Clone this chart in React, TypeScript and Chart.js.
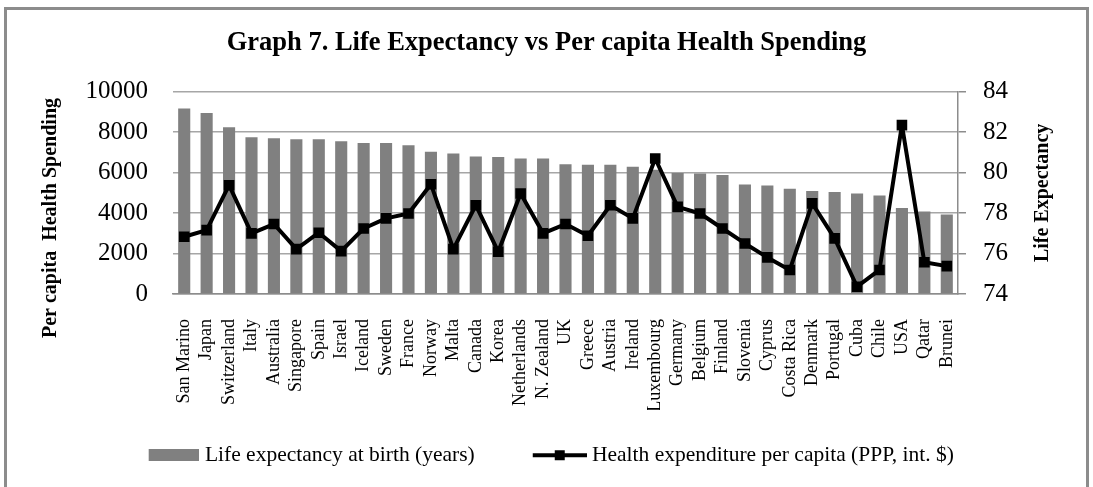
import React, { useEffect, useRef } from "react";
import { Chart, registerables } from "chart.js";

Chart.register(...registerables);

const countries = [
  "San Marino", "Japan", "Switzerland", "Italy", "Australia", "Singapore", "Spain",
  "Israel", "Iceland", "Sweden", "France", "Norway", "Malta", "Canada", "Korea",
  "Netherlands", "N. Zealand", "UK", "Greece", "Austria", "Ireland", "Luxembourg",
  "Germany", "Belgium", "Finland", "Slovenia", "Cyprus", "Costa Rica", "Denmark",
  "Portugal", "Cuba", "Chile", "USA", "Qatar", "Brunei",
];

const lifeExpectancy = [
  83.17, 82.95, 82.25, 81.75, 81.7, 81.65, 81.65, 81.55, 81.47, 81.47, 81.36,
  81.03, 80.95, 80.8, 80.77, 80.7, 80.7, 80.42, 80.39, 80.39, 80.29, 80.15,
  79.99, 79.96, 79.88, 79.42, 79.37, 79.2, 79.09, 79.04, 78.97, 78.87, 78.25,
  78.08, 77.93,
];

const healthSpending = [
  2830, 3160, 5380, 3000, 3460, 2220, 3030, 2120, 3240, 3740, 3980, 5430, 2220,
  4390, 2090, 4970, 3000, 3460, 2880, 4390, 3740, 6700, 4310, 3980, 3240, 2500,
  1810, 1190, 4480, 2750, 360, 1190, 8350, 1570, 1380,
];

const spendingTicks = [0, 2000, 4000, 6000, 8000, 10000];
const lifeTicks = [74, 76, 78, 80, 82, 84];

const chartTitle = "Graph 7. Life Expectancy vs Per capita Health Spending";
const leftAxisTitle = "Per capita  Health Spending";
const rightAxisTitle = "Life Expectancy";
const barLabel = "Life expectancy at birth (years)";
const lineLabel = "Health expenditure per capita (PPP, int. $)";

const FONT = "'Liberation Serif', 'Times New Roman', Times, serif";
const BAR_COLOR = "#808080";
const GRID_COLOR = "#a6a6a6";
const AXIS_COLOR = "#8c8c8c";

const LEGEND_FONT = 21.5;
const LEGEND_BOX_W = 55;
const LEGEND_PAD = 51.5;

function makeBarSwatch(): HTMLCanvasElement {
  const w = LEGEND_BOX_W + 9;
  const c = document.createElement("canvas");
  c.width = w;
  c.height = 12;
  const g = c.getContext("2d")!;
  g.fillStyle = BAR_COLOR;
  g.fillRect(w - 50, 0, 50, 12);
  return c;
}

function makeLineSwatch(): HTMLCanvasElement {
  const w = LEGEND_BOX_W + 11;
  const c = document.createElement("canvas");
  c.width = w;
  c.height = 14;
  const g = c.getContext("2d")!;
  g.fillStyle = "#000";
  g.fillRect(w - 54, 5, 54, 4);
  g.fillRect(w - 27 - 5, 2, 10, 10);
  return c;
}

const axisTitlePlugin = {
  id: "axisTitles",
  afterDraw(chart: any) {
    const ctx = chart.ctx as CanvasRenderingContext2D;
    const area = chart.chartArea;
    ctx.save();
    ctx.fillStyle = "#000";
    ctx.font = `bold 20px ${FONT}`;
    ctx.textAlign = "center";
    ctx.textBaseline = "middle";
    ctx.translate(51, area.bottom - 76);
    ctx.rotate(-Math.PI / 2);
    ctx.fillText(leftAxisTitle, 0, 0);
    ctx.restore();

    ctx.save();
    ctx.fillStyle = "#000";
    ctx.font = `bold 20px ${FONT}`;
    ctx.textAlign = "center";
    ctx.textBaseline = "middle";
    ctx.translate(area.right + 85, (area.top + area.bottom) / 2);
    ctx.rotate(-Math.PI / 2);
    ctx.fillText(rightAxisTitle, 0, 0);
    ctx.restore();
  },
};

// The legend box sits below the tall category axis; lift it so its row lands where the reference has it.
const legendLiftPlugin = {
  id: "legendLift",
  afterLayout(chart: any) {
    const lg = chart.legend;
    if (!lg) return;
    const lift = 17;
    lg.top -= lift;
    lg.bottom -= lift;
  },
};

export default function App() {
  const ref = useRef<HTMLCanvasElement>(null);

  useEffect(() => {
    const barSwatch = makeBarSwatch();
    const lineSwatch = makeLineSwatch();
    Chart.defaults.font.family = FONT;
    Chart.defaults.color = "#000";

    const chart = new Chart(ref.current!, {
      type: "bar",
      data: {
        labels: countries,
        datasets: [
          {
            type: "bar",
            label: barLabel,
            data: lifeExpectancy,
            yAxisID: "yRight",
            backgroundColor: BAR_COLOR,
            base: lifeTicks[0],
            barPercentage: 0.54,
            categoryPercentage: 1,
            order: 2,
          } as any,
          {
            type: "line",
            label: lineLabel,
            data: healthSpending,
            yAxisID: "yLeft",
            borderColor: "#000",
            backgroundColor: "#000",
            borderWidth: 4,
            borderJoinStyle: "round",
            pointStyle: "rect",
            pointRadius: 7.5,
            pointBackgroundColor: "#000",
            pointBorderColor: "#000",
            pointBorderWidth: 0,
            tension: 0,
            order: 1,
          } as any,
        ],
      },
      options: {
        responsive: false,
        animation: false,
        devicePixelRatio: 1,
        layout: { padding: { top: 0, bottom: -6, left: 0, right: 0 } },
        plugins: {
          title: {
            display: true,
            text: chartTitle,
            color: "#000",
            font: { size: 26.5, weight: "bold", family: FONT },
            padding: { top: 27, bottom: 33 },
          },
          legend: {
            display: true,
            position: "bottom",
            labels: {
              usePointStyle: true,
              pointStyleWidth: LEGEND_BOX_W,
              boxHeight: LEGEND_FONT,
              padding: LEGEND_PAD,
              color: "#000",
              font: { size: LEGEND_FONT, family: FONT },
              sort: (a: any, b: any) => a.datasetIndex - b.datasetIndex,
              generateLabels: (ch: any) => {
                const items = (Chart.defaults.plugins.legend.labels as any).generateLabels(ch);
                items.forEach((it: any) => {
                  it.pointStyle = it.datasetIndex === 0 ? barSwatch : lineSwatch;
                });
                return items;
              },
            },
          },
          tooltip: { enabled: false },
        },
        scales: {
          x: {
            type: "category",
            offset: true,
            grid: { display: false },
            border: { display: true, color: AXIS_COLOR, width: 1.5 },
            ticks: {
              autoSkip: false,
              maxRotation: 90,
              minRotation: 90,
              padding: 17,
              color: "#000",
              font: { size: 18, family: FONT },
            },
            afterFit: (s: any) => {
              s.height = 116;
            },
          },
          yLeft: {
            type: "linear",
            position: "left",
            min: spendingTicks[0],
            max: spendingTicks[spendingTicks.length - 1],
            ticks: {
              stepSize: spendingTicks[1] - spendingTicks[0],
              padding: 25,
              color: "#000",
              font: { size: 25, family: FONT },
              callback: (v: any) => String(v),
            },
            grid: { color: GRID_COLOR, lineWidth: 1.5, drawTicks: false },
            border: { display: false },
            afterFit: (s: any) => {
              s.width = 173;
            },
          },
          yRight: {
            type: "linear",
            position: "right",
            min: lifeTicks[0],
            max: lifeTicks[lifeTicks.length - 1],
            ticks: {
              stepSize: lifeTicks[1] - lifeTicks[0],
              padding: 17,
              color: "#000",
              font: { size: 25, family: FONT },
              callback: (v: any) => String(v),
            },
            grid: {
              drawOnChartArea: false,
              color: AXIS_COLOR,
              lineWidth: 1.5,
              tickLength: 8,
            },
            border: { display: true, color: AXIS_COLOR, width: 1.5 },
            afterFit: (s: any) => {
              s.width = 135;
            },
          },
        },
      } as any,
      plugins: [axisTitlePlugin, legendLiftPlugin],
    });
    return () => chart.destroy();
  }, []);

  return (
    <div
      style={{
        position: "fixed",
        left: 0,
        top: 0,
        width: 1093,
        height: 487,
        background: "#fff",
        overflow: "hidden",
      }}
    >
      <div
        style={{
          position: "absolute",
          left: 4,
          top: 7,
          width: 1085,
          height: 560,
          border: "3px solid #8c8c8c",
          boxSizing: "border-box",
        }}
      />
      <canvas
        ref={ref}
        width={1093}
        height={487}
        style={{ position: "absolute", left: 0, top: 0, width: 1093, height: 487 }}
      />
    </div>
  );
}
